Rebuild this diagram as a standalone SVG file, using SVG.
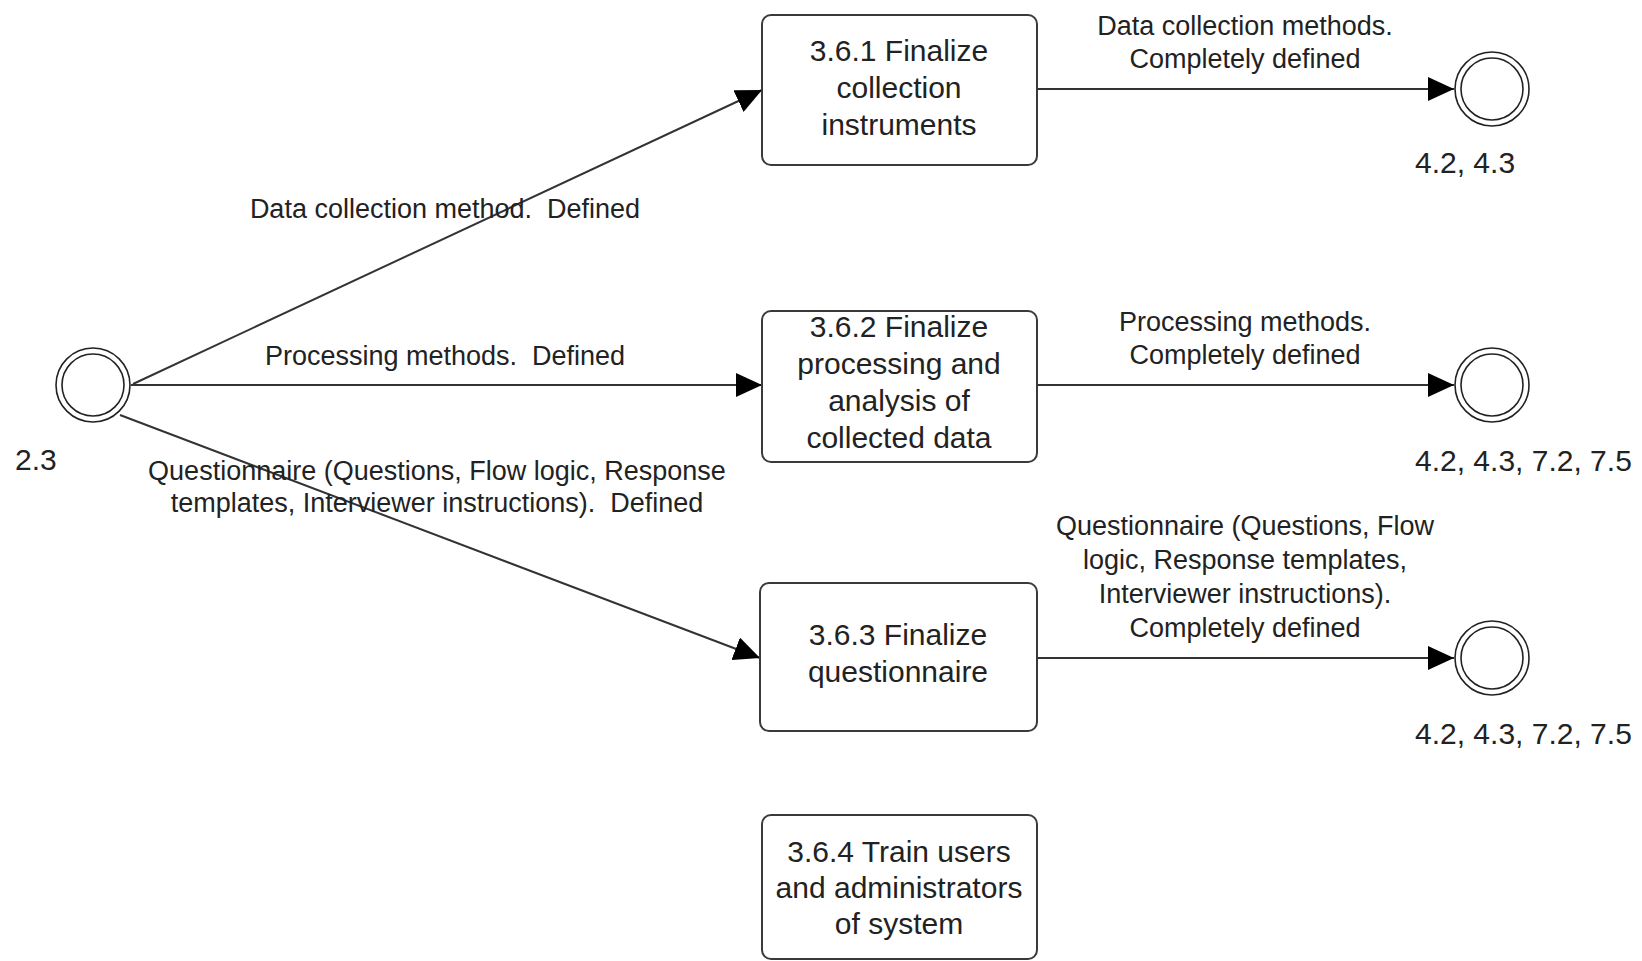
<svg xmlns="http://www.w3.org/2000/svg" width="1642" height="961" viewBox="0 0 1642 961">
  <style>
    text { font-family: "Liberation Sans", Arial, Helvetica, sans-serif; fill: #222; white-space: pre; }
    .task { fill: #fff; stroke: #3a3a3a; stroke-width: 2; }
    .tlabel { font-size: 30px; text-anchor: middle; }
    .elabel { font-size: 27px; text-anchor: middle; }
    .nlabel { font-size: 30px; }
    .ring { fill: #fff; stroke: #222; stroke-width: 1.6; }
    .flow { fill: none; stroke: #333; stroke-width: 2; marker-end: url(#arrow); }
  </style>
  <defs>
    <marker id="arrow" markerUnits="userSpaceOnUse" markerWidth="26" markerHeight="24" refX="26" refY="12" orient="auto">
      <path d="M0,0 L26,12 L0,24 Z" fill="#000"/>
    </marker>
  </defs>

  <rect width="1642" height="961" fill="#fff"/>

  <!-- sequence flows -->
  <g id="connectors">
    <line class="flow" x1="133" y1="384" x2="762" y2="90"/>
    <line class="flow" x1="131" y1="385" x2="762" y2="385"/>
    <line class="flow" x1="120" y1="415" x2="760" y2="658"/>
    <line class="flow" x1="1037" y1="89" x2="1454" y2="89"/>
    <line class="flow" x1="1037" y1="385" x2="1454" y2="385"/>
    <line class="flow" x1="1037" y1="658" x2="1454" y2="658"/>

    <text class="elabel" x="445" y="218" xml:space="preserve">Data collection method.  Defined</text>
    <text class="elabel" x="445" y="365" xml:space="preserve">Processing methods.  Defined</text>
    <text class="elabel" x="437" y="480">Questionnaire (Questions, Flow logic, Response</text>
    <text class="elabel" x="437" y="512" xml:space="preserve">templates, Interviewer instructions).  Defined</text>

    <text class="elabel" x="1245" y="35">Data collection methods.</text>
    <text class="elabel" x="1245" y="68">Completely defined</text>

    <text class="elabel" x="1245" y="331">Processing methods.</text>
    <text class="elabel" x="1245" y="364">Completely defined</text>

    <text class="elabel" x="1245" y="535">Questionnaire (Questions, Flow</text>
    <text class="elabel" x="1245" y="569">logic, Response templates,</text>
    <text class="elabel" x="1245" y="603">Interviewer instructions).</text>
    <text class="elabel" x="1245" y="637">Completely defined</text>
  </g>

  <!-- start event -->
  <g id="event-2-3">
    <circle class="ring" cx="93" cy="385" r="37"/>
    <circle class="ring" cx="93" cy="385" r="31"/>
    <text class="nlabel" x="15" y="470">2.3</text>
  </g>

  <!-- tasks -->
  <g id="task-3-6-1">
    <rect class="task" x="762" y="15" width="275" height="150" rx="9"/>
    <text class="tlabel" x="899" y="61">3.6.1 Finalize</text>
    <text class="tlabel" x="899" y="98">collection</text>
    <text class="tlabel" x="899" y="135">instruments</text>
  </g>

  <g id="task-3-6-2">
    <rect class="task" x="762" y="311" width="275" height="151" rx="9"/>
    <text class="tlabel" x="899" y="337">3.6.2 Finalize</text>
    <text class="tlabel" x="899" y="374">processing and</text>
    <text class="tlabel" x="899" y="411">analysis of</text>
    <text class="tlabel" x="899" y="448">collected data</text>
  </g>

  <g id="task-3-6-3">
    <rect class="task" x="760" y="583" width="277" height="148" rx="9"/>
    <text class="tlabel" x="898" y="645">3.6.3 Finalize</text>
    <text class="tlabel" x="898" y="682">questionnaire</text>
  </g>

  <g id="task-3-6-4">
    <rect class="task" x="762" y="815" width="275" height="144" rx="9"/>
    <text class="tlabel" x="899" y="862">3.6.4 Train users</text>
    <text class="tlabel" x="899" y="898">and administrators</text>
    <text class="tlabel" x="899" y="934">of system</text>
  </g>

  <!-- end events -->
  <g id="event-4-2-4-3">
    <circle class="ring" cx="1492" cy="89" r="37"/>
    <circle class="ring" cx="1492" cy="89" r="31"/>
    <text class="nlabel" x="1415" y="173">4.2, 4.3</text>
  </g>

  <g id="event-processing-out">
    <circle class="ring" cx="1492" cy="385" r="37"/>
    <circle class="ring" cx="1492" cy="385" r="31"/>
    <text class="nlabel" x="1415" y="471">4.2, 4.3, 7.2, 7.5</text>
  </g>

  <g id="event-questionnaire-out">
    <circle class="ring" cx="1492" cy="658" r="37"/>
    <circle class="ring" cx="1492" cy="658" r="31"/>
    <text class="nlabel" x="1415" y="744">4.2, 4.3, 7.2, 7.5</text>
  </g>
</svg>
